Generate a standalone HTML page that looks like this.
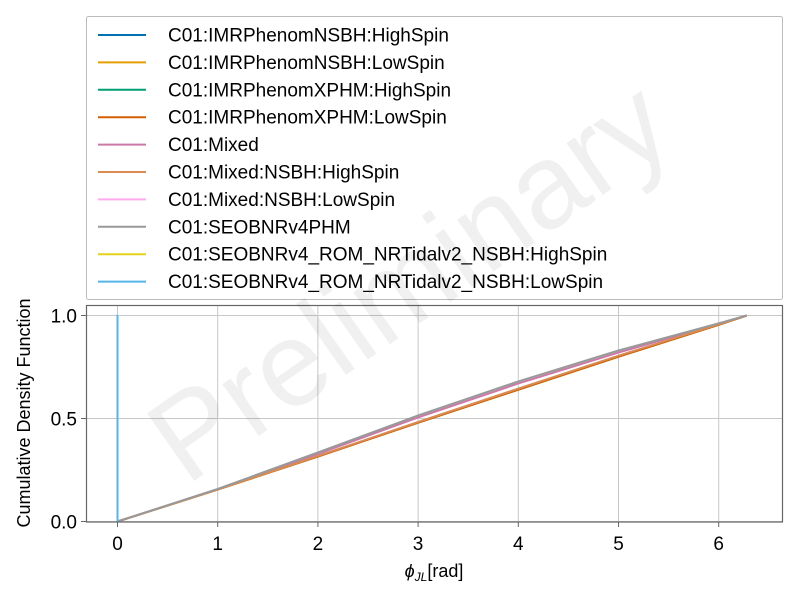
<!DOCTYPE html>
<html><head><meta charset="utf-8"><style>
body{margin:0;background:#fff;}
svg text{font-family:"Liberation Sans",sans-serif;}
</style></head><body>
<svg id="chart" width="800" height="600">
<g id="grid"></g>
<g id="series"></g>
<rect x="86.5" y="305.5" width="696" height="216.5" fill="none" stroke="#666" stroke-width="1.2"/>
<g id="axes"></g>
<text x="30" y="413" font-size="18" text-anchor="middle" transform="rotate(-90 30 413)" fill="#000">Cumulative Density Function</text>
<text x="434" y="577" font-size="18" text-anchor="middle" font-family="Liberation Serif" font-style="italic" fill="#000">ϕ<tspan font-size="12" dy="4">JL</tspan><tspan dy="-4" font-style="normal">[rad]</tspan></text>
<rect x="86.5" y="16.5" width="696" height="283" fill="#fff" fill-opacity="0.9" stroke="#bbb" stroke-width="1" rx="2"/>
<g id="legend"></g>
<text x="415" y="320" font-size="120" fill="#000" fill-opacity="0.06" text-anchor="middle" transform="rotate(-35 415 290)">Preliminary</text>
</svg>
<script>
const names=["C01:IMRPhenomNSBH:HighSpin","C01:IMRPhenomNSBH:LowSpin","C01:IMRPhenomXPHM:HighSpin","C01:IMRPhenomXPHM:LowSpin","C01:Mixed","C01:Mixed:NSBH:HighSpin","C01:Mixed:NSBH:LowSpin","C01:SEOBNRv4PHM","C01:SEOBNRv4_ROM_NRTidalv2_NSBH:HighSpin","C01:SEOBNRv4_ROM_NRTidalv2_NSBH:LowSpin"];
const colors=["#0072b2","#e69f00","#009e73","#d55e00","#cc79a7","#d98b52","#ffaaee","#999999","#e4d21b","#56b4e9"];
const xGrid=[0,1,2,3,4,5,6];
const yTicks=[0,0.5,1.0];
const yLabels=["0.0","0.5","1.0"];
const stepX=[0,0,0.0001];
const stepY=[0,1,1];
const curveX=[0,1,2,3,4,5,6,6.28];
const xphmY=[0,0.155,0.315,0.48,0.64,0.80,0.955,1];
const mixedY=[0,0.157,0.328,0.505,0.67,0.82,0.96,1];
const seobY=[0,0.158,0.335,0.515,0.68,0.83,0.962,1];
const mixedHighY=[0,0.155,0.318,0.483,0.645,0.805,0.957,1];
const seriesX=[stepX,stepX,curveX,curveX,curveX,curveX,stepX,curveX,stepX,stepX];
const seriesY=[stepY,stepY,xphmY,xphmY,mixedY,mixedHighY,stepY,seobY,stepY,stepY];
const NS="http://www.w3.org/2000/svg";
const xs=v=>117.5+v*100.2, ys=v=>521.5-v*206;
function mk(t,a,p){const e=document.createElementNS(NS,t);for(const k in a)e.setAttribute(k,a[k]);p.appendChild(e);return e;}
const grid=document.getElementById('grid'),axes=document.getElementById('axes');
xGrid.forEach((v,i)=>{
 const l=mk('line',{x1:xs(v),x2:xs(v),y1:305,y2:522,stroke:'#c8c8c8','stroke-width':1},grid);
 
 
 const tk=mk('line',{x1:xs(v),x2:xs(v),y1:522,y2:527,stroke:'#666'},axes);
 
 
 const t=mk('text',{x:xs(v),y:550,'font-size':19,'text-anchor':'middle',fill:'#000'},axes);t.textContent=v;
 
 
});
yTicks.forEach((v,i)=>{
 const l=mk('line',{x1:86,x2:782,y1:ys(v),y2:ys(v),stroke:'#c8c8c8','stroke-width':1},grid);
 
 
 const tk=mk('line',{x1:81,x2:86,y1:ys(v),y2:ys(v),stroke:'#666'},axes);
 
 
 const t=mk('text',{x:77,y:ys(v)+7,'font-size':19,'text-anchor':'end',fill:'#000'},axes);t.textContent=yLabels[i];
 
 
});
const sg=document.getElementById('series');
names.forEach((n,i)=>{
 const pts=seriesX[i].map((x,j)=>xs(x)+','+ys(seriesY[i][j])).join(' ');
 const p=mk('polyline',{points:pts,fill:'none',stroke:colors[i],'stroke-width':2},sg);
 
 
});
const lg=document.getElementById('legend');
names.forEach((n,i)=>{
 const y=35+i*27.4;
 const l=mk('line',{x1:98,x2:146,y1:y,y2:y,stroke:colors[i],'stroke-width':2},lg);
 
 
 const t=mk('text',{x:168,y:y+6.5,'font-size':19,fill:'#000'},lg);t.textContent=n;
 
 
});
</script>
</body></html>
